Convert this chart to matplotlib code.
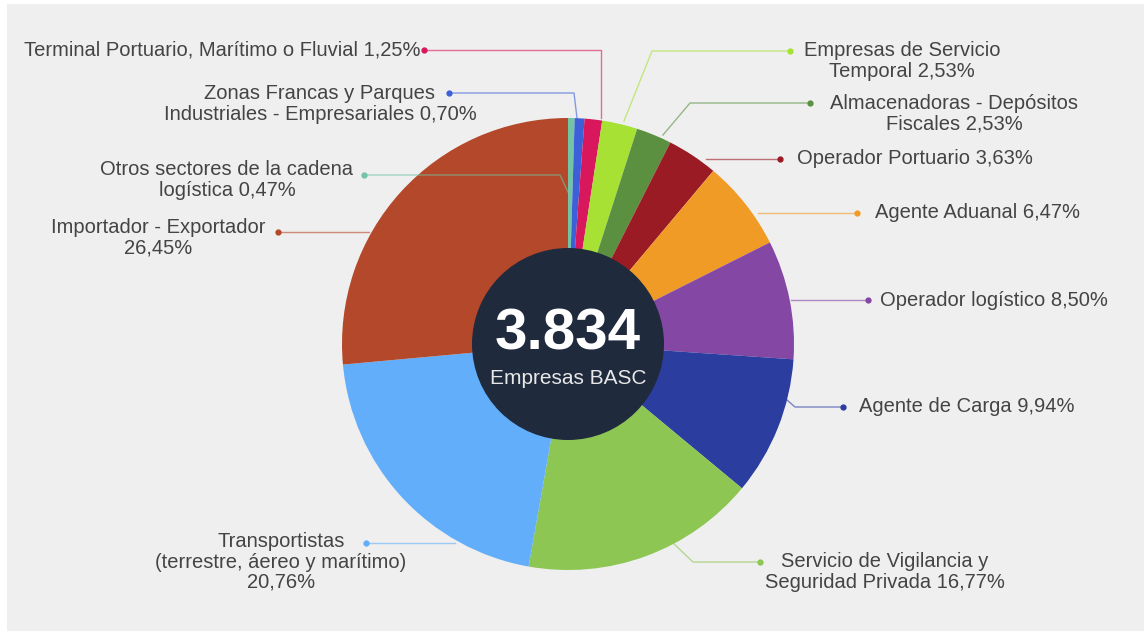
import numpy as np
import matplotlib.pyplot as plt
from matplotlib.patches import Circle, Rectangle

# Datos: sectores de las empresas BASC (orden horario desde arriba)
sectores = [
    "Otros sectores de la cadena\nlogística 0,47%",
    "Zonas Francas y Parques\nIndustriales - Empresariales 0,70%",
    "Terminal Portuario, Marítimo o Fluvial 1,25%",
    "Empresas de Servicio\nTemporal 2,53%",
    "Almacenadoras - Depósitos\nFiscales 2,53%",
    "Operador Portuario 3,63%",
    "Agente Aduanal 6,47%",
    "Operador logístico 8,50%",
    "Agente de Carga 9,94%",
    "Servicio de Vigilancia y\nSeguridad Privada 16,77%",
    "Transportistas\n(terrestre, áereo y marítimo)\n20,76%",
    "Importador - Exportador\n26,45%",
]
porcentajes = [0.47, 0.70, 1.25, 2.53, 2.53, 3.63, 6.47, 8.50, 9.94, 16.77, 20.76, 26.45]
colores = ["#72c4a4", "#3d5fd8", "#d8175c", "#a6e134", "#5b9040", "#9b1b24",
           "#f09b26", "#8547a4", "#2b3d9f", "#8dc653", "#63aefa", "#b4482b"]
total_empresas = "3.834"
subtitulo = "Empresas BASC"

# posición de cada etiqueta (x, y, ha), punto y trazo de la guía, en píxeles
texto_pos = [
    (227, 180, "center"), (320, 104, "center"), (420, 50, "right"),
    (902, 61, "center"), (954, 114, "center"), (797, 159, "left"),
    (875, 213, "left"), (880, 300, "left"), (859, 407, "left"),
    (885, 572, "center"), (281, 562, "center"), (158, 238, "center"),
]
guias = [
    [(364, 175), (560, 175), (568, 192)],
    [(449, 93), (574, 93), (577, 118)],
    [(424, 50), (601, 50), (601, 118)],
    [(790, 51), (652, 51), (624, 121)],
    [(810, 103), (690, 103), (663, 135)],
    [(780, 159), (706, 159)],
    [(857, 213), (758, 213)],
    [(868, 300), (791, 300)],
    [(843, 407), (795, 407), (787, 400)],
    [(760, 562), (693, 562), (673, 543)],
    [(366, 543), (455, 543)],
    [(278, 232), (369, 232)],
]

W, H = 1144, 632
centro = (568, 344)
radio = 226

fig = plt.figure(figsize=(W / 100, H / 100), dpi=100)
fig.patch.set_facecolor("white")
ax = fig.add_axes([0, 0, 1, 1])

ax.add_patch(Rectangle((7, 4), W - 7, 627, facecolor="#efefef", edgecolor="none", zorder=0))

ax.pie(porcentajes, colors=colores, startangle=-90, counterclock=True,
       center=centro, radius=radio,
       wedgeprops=dict(linewidth=0), frame=True)

ax.add_patch(Circle(centro, 96, facecolor="#1f2a3d", edgecolor="none", zorder=5))
ax.text(centro[0], 334, total_empresas, color="white", fontsize=42, fontweight="bold",
        family="Liberation Sans", ha="center", va="center", zorder=6)
ax.text(centro[0], 379, subtitulo, color="#e8e8e8", fontsize=15,
        family="Liberation Sans", ha="center", va="center", zorder=6)

for etiqueta, color, (tx, ty, ha), guia in zip(sectores, colores, texto_pos, guias):
    xs = [p[0] for p in guia]
    ys = [p[1] for p in guia]
    ax.plot(xs, ys, color=color, lw=1, alpha=0.6, zorder=3)
    ax.plot(xs[0], ys[0], "o", color=color, markersize=3.5, zorder=4)
    ax.text(tx, ty, etiqueta, color="#444444", fontsize=14.5, family="Liberation Sans",
            ha=ha, va="center", multialignment="center", linespacing=1.08, zorder=4)

ax.set_xlim(0, W)
ax.set_ylim(H, 0)
ax.set_aspect("auto")
ax.axis("off")

plt.savefig("out.png", dpi=100)
